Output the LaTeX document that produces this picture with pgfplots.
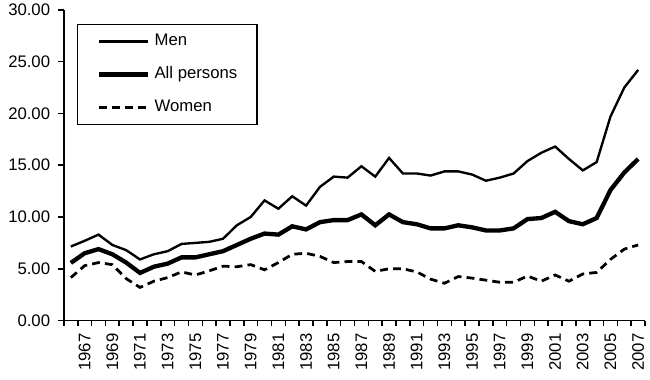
\documentclass[border=0pt]{standalone}
\usepackage{pgfplots}
\pgfplotsset{compat=1.18}
\usepackage{fontspec}
\setmainfont{Liberation Sans}
\begin{document}
\begin{tikzpicture}
\begin{axis}[
  scale only axis,
  width=295.5pt, height=158pt,
  xmin=1966.5, xmax=2008.5,
  ymin=0, ymax=30,
  axis x line=bottom, axis y line=left,
  axis line style={-, line width=0.9pt},
  xtick={1967,1969,...,2007},
  major x tick style={draw=none},
  minor xtick={1966.5,1967.5,...,2008.5},
  minor tick length=3pt,
  x tick style={line width=0.8pt, black},
  ytick={0,5,...,30},
  y tick style={line width=0.8pt, black},
  major tick length=3pt,
  tick align=outside,
  /pgf/number format/assume math mode=true,
  xticklabel style={rotate=90, anchor=east, yshift=-7pt, font=\fontsize{8.5}{10}\selectfont, /pgf/number format/1000 sep={}},
  yticklabel style={xshift=-0.5pt, font=\fontsize{8.5}{10}\selectfont, /pgf/number format/fixed, /pgf/number format/fixed zerofill, /pgf/number format/precision=2},
  legend cell align=left,
  legend style={at={(0.022,0.956)}, anchor=north west, draw=black, line width=0.8pt,
    font=\fontsize{8.5}{10}\selectfont, inner xsep=10pt, inner ysep=4.5pt,
    row sep=8.25pt, column sep=2.5pt,
    nodes={inner sep=0pt, text height=6.5pt, text depth=2pt}},
  legend image code/.code={\draw[#1] (0pt,0pt) -- (24.5pt,0pt);},
]
\addplot[black, line width=1.2pt, mark=none] coordinates {
(1967,7.15)(1968,7.7)(1969,8.3)(1970,7.3)(1971,6.8)(1972,5.9)(1973,6.4)(1974,6.7)
(1975,7.4)(1976,7.5)(1977,7.6)(1978,7.9)(1979,9.2)(1980,10.0)(1981,11.6)(1982,10.8)
(1983,12.0)(1984,11.1)(1985,12.9)(1986,13.9)(1987,13.8)(1988,14.9)(1989,13.9)(1990,15.7)
(1991,14.2)(1992,14.2)(1993,14.0)(1994,14.4)(1995,14.4)(1996,14.1)(1997,13.5)(1998,13.8)
(1999,14.2)(2000,15.4)(2001,16.2)(2002,16.8)(2003,15.6)(2004,14.5)(2005,15.3)(2006,19.7)
(2007,22.5)(2008,24.2)};
\addlegendentry{Men}
\addplot[black, line width=2.2pt, mark=none] coordinates {
(1967,5.57)(1968,6.5)(1969,6.9)(1970,6.4)(1971,5.6)(1972,4.6)(1973,5.2)(1974,5.5)
(1975,6.1)(1976,6.1)(1977,6.4)(1978,6.7)(1979,7.3)(1980,7.9)(1981,8.4)(1982,8.3)
(1983,9.1)(1984,8.8)(1985,9.5)(1986,9.7)(1987,9.7)(1988,10.25)(1989,9.2)(1990,10.25)
(1991,9.5)(1992,9.3)(1993,8.9)(1994,8.9)(1995,9.2)(1996,9.0)(1997,8.7)(1998,8.7)
(1999,8.9)(2000,9.8)(2001,9.9)(2002,10.5)(2003,9.6)(2004,9.3)(2005,9.9)(2006,12.6)
(2007,14.3)(2008,15.6)};
\addlegendentry{All persons}
\addplot[black, line width=1.4pt, dash pattern=on 4pt off 2.6pt, mark=none] coordinates {
(1967,4.15)(1968,5.3)(1969,5.6)(1970,5.4)(1971,4.05)(1972,3.2)(1973,3.8)(1974,4.15)
(1975,4.7)(1976,4.4)(1977,4.8)(1978,5.25)(1979,5.2)(1980,5.4)(1981,4.9)(1982,5.6)
(1983,6.4)(1984,6.5)(1985,6.2)(1986,5.6)(1987,5.7)(1988,5.7)(1989,4.75)(1990,5.0)
(1991,5.0)(1992,4.7)(1993,4.0)(1994,3.6)(1995,4.25)(1996,4.1)(1997,3.9)(1998,3.7)
(1999,3.7)(2000,4.3)(2001,3.8)(2002,4.4)(2003,3.8)(2004,4.5)(2005,4.65)(2006,5.9)
(2007,6.9)(2008,7.3)};
\addlegendentry{Women}
\end{axis}
\pgfresetboundingbox
\path (-32.5pt,-30.2pt) rectangle (298pt,163pt);
\end{tikzpicture}
\end{document}
